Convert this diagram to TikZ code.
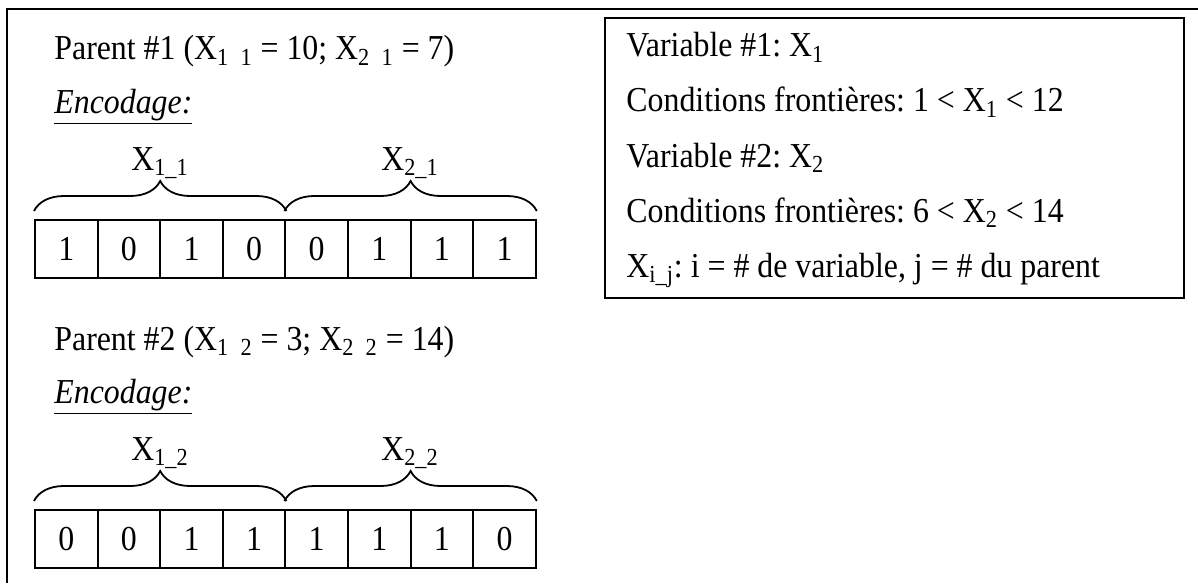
\documentclass[tikz,border=0pt]{standalone}
\usepackage{fontspec}
\setmainfont{Liberation Serif}[FakeStretch=0.91]
\usetikzlibrary{decorations.pathreplacing}
\frenchspacing

\begin{document}
\begin{tikzpicture}[
	x=0.5pt, y=-0.5pt,
	txt/.style={anchor=base west, inner sep=0pt, font=\fontsize{17.5}{21}\selectfont},
	lbl/.style={anchor=base, inner sep=0pt, font=\fontsize{17.5}{21}\selectfont},
	cell/.style={rectangle, draw, line width=1pt, minimum width=31.3pt, minimum height=29pt, inner sep=0pt, font=\fontsize{17.5}{21}\selectfont},
	accol/.style={decorate, decoration={brace, amplitude=15pt, raise=4pt}, line width=0.9pt},
	cadre/.style={line width=1pt}
	]
	\useasboundingbox (0,0) rectangle (1198,583);
	% cadre exterieur (haut et gauche)
	\coordinate (coinA) at (7,9);
	\coordinate (coinB) at (1198,9);
	\coordinate (coinC) at (8,583);
	\draw[cadre] (coinB) -- (coinA) -- (coinA |- coinC);
	
	% Parent #1
	\node[txt] (titre1) at (54,60) {Parent \#1 (X\textsubscript{1\enspace 1} = 10; X\textsubscript{2\enspace 1} = 7)};
	\node[txt] (enc1) at (54,113) {\underline{\textit{Encodage:}}};
	\foreach \b [count=\i] in {1,0,1,0,0,1,1,1}
		\node[cell] (a\i) at ({35+62.6*(\i-1)+31.3},249) {\b};
	\draw[accol] (a1.north west) -- (a4.north east);
	\draw[accol] (a5.north west) -- (a8.north east);
	\node[lbl] (va1) at (160,170) {X\textsubscript{1\_1}};
	\node[lbl] (va2) at (410,170) {X\textsubscript{2\_1}};
	
	% Parent #2
	\node[txt] (titre2) at (54,350) {Parent \#2 (X\textsubscript{1\enspace 2} = 3; X\textsubscript{2\enspace 2} = 14)};
	\node[txt] (enc2) at (54,403) {\underline{\textit{Encodage:}}};
	\foreach \b [count=\i] in {0,0,1,1,1,1,1,0}
		\node[cell] (b\i) at ({35+62.6*(\i-1)+31.3},539) {\b};
	\draw[accol] (b1.north west) -- (b4.north east);
	\draw[accol] (b5.north west) -- (b8.north east);
	\node[lbl] (vb1) at (160,460) {X\textsubscript{1\_2}};
	\node[lbl] (vb2) at (410,460) {X\textsubscript{2\_2}};
	
	% legende
	\node[draw, line width=1pt, anchor=north west, minimum width=289.5pt, minimum height=140pt, inner sep=0pt] (legende) at (604,17) {};
	\node[txt] (l1) at (626,57) {Variable \#1: X\textsubscript{1}};
	\node[txt] (l2) at (626,112) {Conditions frontières: 1 < X\textsubscript{1} < 12};
	\node[txt] (l3) at (626,167) {Variable \#2: X\textsubscript{2}};
	\node[txt] (l4) at (626,222) {Conditions frontières: 6 < X\textsubscript{2} < 14};
	\node[txt] (l5) at (626,277) {X\textsubscript{i\_j}: i = \# de variable, j = \# du parent};
\end{tikzpicture}
\end{document}
